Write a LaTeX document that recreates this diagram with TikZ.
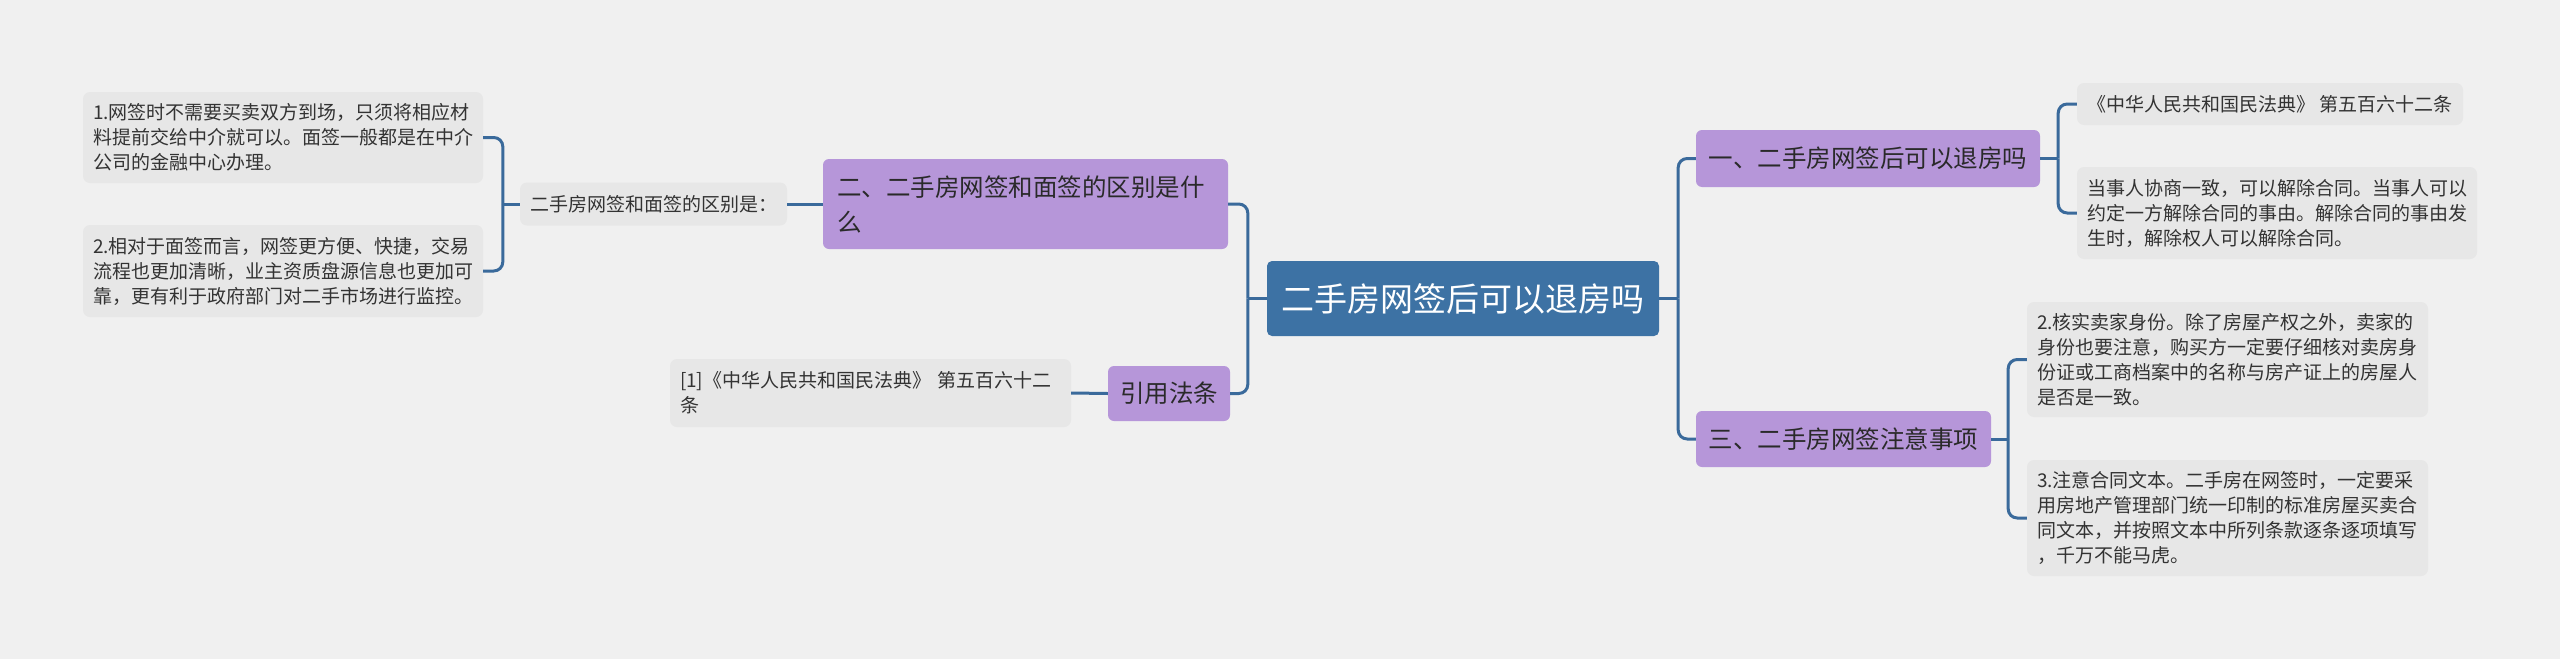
\documentclass[tikz,border=0pt]{standalone}
\usepackage{fontspec}
\newfontfamily\cjk{Noto Sans CJK SC}
\usetikzlibrary{positioning}
\definecolor{bggray}{HTML}{F0F0F0}
\definecolor{rootblue}{HTML}{3D72A4}
\definecolor{topicpurple}{HTML}{B696D9}
\definecolor{leafgray}{HTML}{E7E7E7}
\definecolor{linkblue}{HTML}{3A6A9B}
\definecolor{inkgray}{HTML}{333333}
\definecolor{topicink}{HTML}{2A2A2A}
\tikzset{
  root/.style={rectangle,fill=rootblue,rounded corners=5pt,text=white,inner sep=0pt,
               minimum width=392pt,minimum height=75pt,font=\cjk\fontsize{33}{40}\selectfont},
  topic/.style={rectangle,fill=topicpurple,rounded corners=6pt,text=topicink,inner sep=0pt,
                font=\cjk\fontsize{24.5}{35}\selectfont},
  % leaves carry the long texts, broken by hand as in the map
  leaf/.style={rectangle,fill=leafgray,rounded corners=7pt,text=inkgray,inner xsep=10pt,inner ysep=0pt,
               align=left,font=\cjk\fontsize{19}{25}\selectfont},
  link/.style={draw=linkblue,line width=3pt},
  elbow/.style={link,rounded corners=9pt},
}
\begin{document}
\begin{tikzpicture}[x=1pt,y=-1pt]
  % canvas
  \fill[bggray] (0,0) rectangle (2560,659);
  % centre
  \node[root] (root) at (1463,298.5) {二手房网签后可以退房吗};
  % right hand topics
  \node[topic,minimum width=344pt,minimum height=57pt] (s1) at (1868,158.5) {一、二手房网签后可以退房吗};
  \node[topic,minimum width=295pt,minimum height=56pt] (s3) at (1843.5,439) {三、二手房网签注意事项};
  \node[leaf,minimum width=386pt,minimum height=42pt] (s1a) at (2270,104) {《中华人民共和国民法典》 第五百六十二条};
  \node[leaf,text width=380pt,minimum height=92pt] (s1b) at (2277,213)
    {当事人协商一致，可以解除合同。当事人可以\\约定一方解除合同的事由。解除合同的事由发\\生时，解除权人可以解除合同。};
  \node[leaf,text width=381pt,minimum height=115pt] (s3a) at (2227.5,359.5)
    {2.核实卖家身份。除了房屋产权之外，卖家的\\身份也要注意，购买方一定要仔细核对卖房身\\份证或工商档案中的名称与房产证上的房屋人\\是否是一致。};
  \node[leaf,text width=381pt,minimum height=116pt] (s3b) at (2227.5,518)
    {3.注意合同文本。二手房在网签时，一定要采\\用房地产管理部门统一印制的标准房屋买卖合\\同文本，并按照文本中所列条款逐条逐项填写\\，千万不能马虎。};
  % left hand topics
  \node[topic,align=left,text width=377pt,inner xsep=14pt,minimum height=90pt] (s2) at (1025.5,204)
    {二、二手房网签和面签的区别是什\\么};
  \node[topic,minimum width=122pt,minimum height=55pt] (s4) at (1169,393.5) {引用法条};
  \node[leaf,minimum width=267pt,minimum height=43pt] (s2m) at (653.5,204) {二手房网签和面签的区别是：};
  \node[leaf,text width=380pt,minimum height=91pt] (s2a) at (283,137.5)
    {1.网签时不需要买卖双方到场，只须将相应材\\料提前交给中介就可以。面签一般都是在中介\\公司的金融中心办理。};
  \node[leaf,text width=380pt,minimum height=92pt] (s2b) at (283,271)
    {2.相对于面签而言，网签更方便、快捷，交易\\流程也更加清晰，业主资质盘源信息也更加可\\靠，更有利于政府部门对二手市场进行监控。};
  \node[leaf,text width=381pt,minimum height=68pt] (s4a) at (870.5,393)
    {[1]《中华人民共和国民法典》 第五百六十二\\条};
  % connectors
  \coordinate (rj) at ([xshift=19pt]root.east);
  \coordinate (lj) at ([xshift=-19pt]root.west);
  \draw[link] (root.east) -- (rj);
  \draw[link] (root.west) -- (lj);
  \foreach \n in {s1,s3} { \draw[elbow] (rj) |- (\n.west); }
  \foreach \n in {s2,s4} { \draw[elbow] (lj) |- (\n.east); }
  \coordinate (s1j) at ([xshift=18pt]s1.east);
  \draw[link] (s1.east) -- (s1j);
  \foreach \n in {s1a,s1b} { \draw[elbow] (s1j) |- (\n.west); }
  \coordinate (s3j) at ([xshift=17pt]s3.east);
  \draw[link] (s3.east) -- (s3j);
  \foreach \n in {s3a,s3b} { \draw[elbow] (s3j) |- (\n.west); }
  \draw[link] (s2.west) -- (s2m.east);
  \coordinate (s2j) at ([xshift=-17pt]s2m.west);
  \draw[link] (s2m.west) -- (s2j);
  \foreach \n in {s2a,s2b} { \draw[elbow] (s2j) |- (\n.east); }
  \draw[link] (s4.west) -- (s4a.east);
\end{tikzpicture}
\end{document}
